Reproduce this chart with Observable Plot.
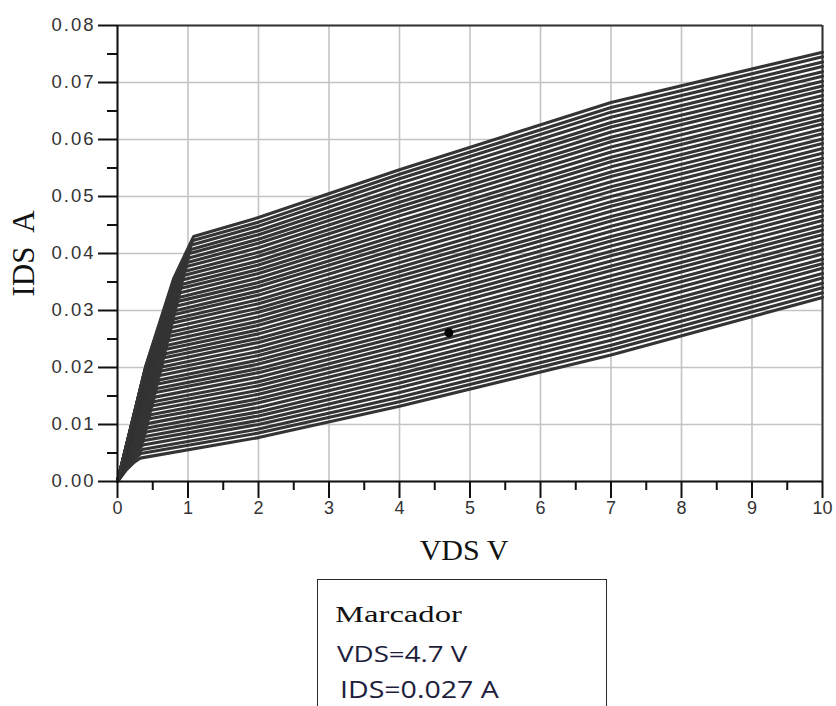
<!DOCTYPE html>
<html>
<head>
<meta charset="utf-8">
<script src="https://cdn.jsdelivr.net/npm/d3@7"></script>
<script src="https://cdn.jsdelivr.net/npm/@observablehq/plot@0.6"></script>
<style>
  html, body { margin: 0; padding: 0; background: #fff; width: 836px; height: 706px; overflow: hidden; position: relative; }
  #chart { position: absolute; left: 0; top: 0; }
  svg text { white-space: pre; }
  #legend { position: absolute; left: 317px; top: 579px; width: 288px; height: 160px; border: 1.6px solid #2a2a2a; background: #fff; }
  .lg { position: absolute; white-space: pre; transform-origin: 0 0; line-height: 1; }
</style>
</head>
<body>
<div id="chart"></div>
<div id="legend"></div>
<script>
// ---- data (currents in mA, voltages in V) ----
// one row per swept curve, bottom curve first
const kneeV = [0.32,0.33,0.35,0.36,0.38,0.39,0.41,0.42,0.44,0.45,0.47,0.48,0.50,0.51,0.53,0.54,0.56,0.57,0.59,0.60,0.62,0.63,0.65,0.66,0.68,0.69,0.71,0.72,0.74,0.75,0.77,0.78,0.80,0.81,0.83,0.84,0.86,0.87,0.89,0.90,0.92,0.93,0.95,0.96,0.98,0.99,1.01,1.02,1.04,1.05,1.07,1.08];
const kneeMA = [4.1,4.9,5.6,6.4,7.2,7.9,8.7,9.4,10.2,11.0,11.7,12.5,13.3,14.0,14.8,15.6,16.3,17.1,17.8,18.6,19.4,20.1,20.9,21.7,22.4,23.2,23.9,24.7,25.5,26.2,27.0,27.8,28.5,29.3,30.0,30.8,31.6,32.3,33.1,33.9,34.6,35.4,36.2,36.9,37.7,38.4,39.2,40.0,40.7,41.5,42.3,43.0];
const sweepVDS = [2, 4, 7, 10];
const at2V = [7.7,8.5,9.2,10.0,10.7,11.5,12.2,13.0,13.8,14.5,15.3,16.0,16.8,17.5,18.3,19.1,19.8,20.6,21.3,22.1,22.8,23.6,24.4,25.1,25.9,26.6,27.4,28.1,28.9,29.7,30.4,31.2,31.9,32.7,33.4,34.2,34.9,35.7,36.5,37.2,38.0,38.7,39.5,40.2,41.0,41.8,42.5,43.3,44.0,44.8,45.5,46.3];
const at4V = [13.2,14.0,14.8,15.6,16.5,17.3,18.1,18.9,19.7,20.5,21.3,22.2,23.0,23.8,24.6,25.4,26.2,27.0,27.8,28.7,29.5,30.3,31.1,31.9,32.7,33.5,34.4,35.2,36.0,36.8,37.6,38.4,39.2,40.1,40.9,41.7,42.5,43.3,44.1,44.9,45.7,46.6,47.4,48.2,49.0,49.8,50.6,51.4,52.3,53.1,53.9,54.7];
const at7V = [22.2,23.1,23.9,24.8,25.7,26.5,27.4,28.3,29.1,30.0,30.9,31.8,32.6,33.5,34.4,35.2,36.1,37.0,37.8,38.7,39.6,40.4,41.3,42.2,43.0,43.9,44.8,45.7,46.5,47.4,48.3,49.1,50.0,50.9,51.7,52.6,53.5,54.3,55.2,56.1,56.9,57.8,58.7,59.6,60.4,61.3,62.2,63.0,63.9,64.8,65.6,66.5];
const at10V = [32.3,33.1,34.0,34.8,35.7,36.5,37.4,38.2,39.0,39.9,40.7,41.6,42.4,43.3,44.1,44.9,45.8,46.6,47.5,48.3,49.2,50.0,50.8,51.7,52.5,53.4,54.2,55.1,55.9,56.7,57.6,58.4,59.3,60.1,61.0,61.8,62.7,63.5,64.3,65.2,66.0,66.9,67.7,68.6,69.4,70.2,71.1,71.9,72.8,73.6,74.5,75.3];
// shape of the ohmic rise, as fractions of each curve's knee
const riseAt = [0.37, 0.74];
const riseLevel = [0.47, 0.83];
// marker
const markerVDS = 4.7;
const markerIDS = 0.027;
const markerDotIDS = 0.0261;
// axes
const xTicks = [0,1,2,3,4,5,6,7,8,9,10];
const xMinor = [0.5,1.5,2.5,3.5,4.5,5.5,6.5,7.5,8.5,9.5];
const yTicks = [0,0.01,0.02,0.03,0.04,0.05,0.06,0.07,0.08];
const yMinor = [0.005,0.015,0.025,0.035,0.045,0.055,0.065,0.075];
const xLabel = "VDS V";
const yLabel = "IDS  A";
const legendTitle = "Marcador";

// ---- build table ----
const sat = [at2V, at4V, at7V, at10V];
const rows = [];
kneeV.forEach((vk, j) => {
  const ik = kneeMA[j];
  rows.push({c: j, x: 0, y: 0});
  riseAt.forEach((f, k) => rows.push({c: j, x: f * vk, y: riseLevel[k] * ik / 1000}));
  rows.push({c: j, x: vk, y: ik / 1000});
  sweepVDS.forEach((v, k) => rows.push({c: j, x: v, y: sat[k][j] / 1000}));
});

const serif = "'Liberation Serif', 'Times New Roman', serif";
const chart = Plot.plot({
  width: 836,
  height: 572,
  marginLeft: 117,
  marginRight: 14,
  marginTop: 25,
  marginBottom: 91,
  style: {background: "#fff", color: "#222", fontFamily: "'Liberation Sans', Arial, sans-serif", fontSize: "18px", overflow: "visible"},
  x: {domain: [0, 10]},
  y: {domain: [0, 0.08]},
  marks: [
    Plot.gridX(xTicks, {stroke: "#c4c4c4", strokeOpacity: 1, strokeWidth: 1.6}),
    Plot.gridY(yTicks, {stroke: "#c4c4c4", strokeOpacity: 1, strokeWidth: 1.6}),
    Plot.line(rows, {x: "x", y: "y", z: "c", stroke: "#343434", strokeWidth: 3.1, strokeLinejoin: "miter"}),
    Plot.dot([{x: markerVDS, y: markerDotIDS}], {x: "x", y: "y", r: 4.5, fill: "#000", stroke: "none"}),
    Plot.ruleY([0.08], {stroke: "#333", strokeWidth: 2}),
    Plot.ruleX([10], {stroke: "#333", strokeWidth: 2}),
    Plot.ruleY([0], {stroke: "#111", strokeWidth: 2}),
    Plot.ruleX([0], {stroke: "#111", strokeWidth: 2}),
    Plot.axisX({ticks: xTicks, tickSize: 17, tickPadding: 3, strokeWidth: 2, stroke: "#111", fill: "#333", label: null, tickFormat: d => String(d), fontSize: 18}),
    Plot.axisX({ticks: xMinor, tickSize: 9, strokeWidth: 2, stroke: "#111", label: null, tickFormat: () => ""}),
    Plot.axisY({ticks: yTicks, tickSize: 19, tickPadding: 3, strokeWidth: 2, stroke: "#111", fill: "#333", label: null, tickFormat: d3.format(".2f"), fontSize: 18.5}),
    Plot.axisY({ticks: yMinor, tickSize: 10, strokeWidth: 2, stroke: "#111", label: null, tickFormat: () => ""}),
    Plot.text([xLabel], {frameAnchor: "bottom", text: d => d, textAnchor: "middle", lineAnchor: "middle", dx: -6, dy: 69, fontSize: 30, fontFamily: serif, fill: "#111"}),
    Plot.text([yLabel], {frameAnchor: "left", text: d => d, textAnchor: "middle", lineAnchor: "middle", dx: -93, rotate: -90, fontSize: 31, fontFamily: serif, fill: "#111"})
  ]
});
document.getElementById("chart").appendChild(chart);
// slightly wider tick label spacing, as in the picture
d3.select(chart).selectAll("g[aria-label='y-axis tick label'] text").attr("letter-spacing", "2px");

// legend box below the chart
const legend = d3.select("#legend");
const lines = [
  {text: legendTitle, left: 17, top: 22, size: 24, family: serif, color: "#111", sx: 1.36},
  {text: `VDS=${markerVDS} V`, left: 19, top: 62, size: 22, family: "'Open Sans', 'Noto Sans', sans-serif", color: "#1e1e3c", sx: 1.26},
  {text: `IDS=${markerIDS} A`, left: 22, top: 98, size: 23, family: "'Open Sans', 'Noto Sans', sans-serif", color: "#1e1e3c", sx: 1.24}
];
lines.forEach(l => {
  legend.append("div").attr("class", "lg")
    .style("left", l.left + "px").style("top", l.top + "px")
    .style("font-size", l.size + "px")
    .style("font-family", l.family).style("color", l.color)
    .style("transform", `scaleX(${l.sx})`)
    .text(l.text);
});
</script>
</body>
</html>
